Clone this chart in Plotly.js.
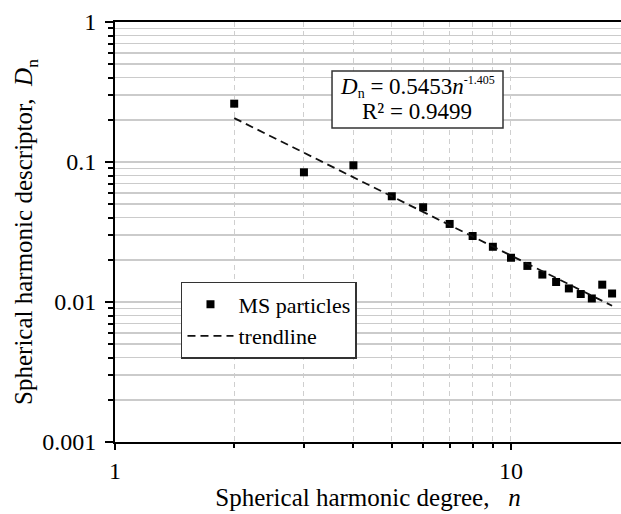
<!DOCTYPE html>
<html>
<head>
<meta charset="utf-8">
<script src="https://cdn.plot.ly/plotly-3.0.1.min.js"></script>
<style>html,body{margin:0;padding:0;background:#fff;}#chart{width:621px;height:514px;}</style>
</head>
<body>
<div id="chart"></div>
<script>
// Spherical harmonic degree n
const degreeN = [2, 3, 4, 5, 6, 7, 8, 9, 10, 11, 12, 13, 14, 15, 16, 17, 18];
// Spherical harmonic descriptor Dn (MS particles)
const descriptorDn = [0.261, 0.0844, 0.0947, 0.0569, 0.0475, 0.0361, 0.0296, 0.0248, 0.0207,
                      0.0181, 0.0157, 0.0139, 0.0125, 0.0114, 0.0106, 0.0133, 0.0115];
// Power-law trendline endpoints (Dn = 0.5453 n^-1.405)
const trendN = [2, 18];
const trendDn = [0.2059, 0.0094];
const xTickVals = [1, 10];
const xTickText = ['1', '10'];
const yTickVals = [0.001, 0.01, 0.1, 1];
const yTickText = ['0.001', '0.01', '0.1', '1'];
const seriesNames = ['MS particles', 'trendline'];
const equationLine1 = '<i>D</i><sub><span style="font-size:14px">n</span></sub> = 0.5453<i>n</i><sup><span style="font-size:12px">-1.405</span></sup>';
const equationLine2 = 'R² = 0.9499';

const FONT = '"Liberation Serif", "Times New Roman", Times, serif';

const traces = [
  {
    x: degreeN, y: descriptorDn, type: 'scatter', mode: 'markers', name: seriesNames[0],
    legendgroup: 'a',
    marker: {symbol: 'square', size: 8, color: '#000'}
  },
  {
    x: trendN, y: trendDn, type: 'scatter', mode: 'lines', name: seriesNames[1],
    legendgroup: 'b',
    line: {color: '#111', width: 1.8, dash: '8px,5px'}
  }
];

const layout = {
  width: 621, height: 514,
  margin: {l: 115, r: 0, t: 22, b: 72},
  paper_bgcolor: '#fff', plot_bgcolor: '#fff',
  font: {family: FONT, color: '#000', size: 24},
  showlegend: true,
  legend: {
    x: 0.1304, y: 0.381, xanchor: 'left', yanchor: 'top',
    bgcolor: '#fff', bordercolor: '#333', borderwidth: 1.5,
    font: {family: FONT, size: 22, color: '#000'},
    traceorder: 'grouped', tracegroupgap: 0, itemwidth: 46
  },
  xaxis: {
    type: 'log', range: [0, 1.2778], autorange: false,
    tickvals: xTickVals, ticktext: xTickText,
    ticks: 'outside', ticklen: 6, tickwidth: 2, tickcolor: '#000',
    showline: true, linecolor: '#000', linewidth: 2, mirror: true,
    showgrid: true, gridcolor: '#cfcfcf', gridwidth: 1, griddash: '5px,4px',
    zeroline: false,
    tickfont: {family: FONT, size: 24, color: '#000'},
    ticklabelstandoff: 0,
    minor: {dtick: 'D1', ticks: 'outside', ticklen: 4, tickwidth: 2, tickcolor: '#000',
            showgrid: true, gridcolor: '#cfcfcf', gridwidth: 1, griddash: '5px,4px'},
    title: {text: 'Spherical harmonic degree,   <i>n</i>', font: {family: FONT, size: 25, color: '#000'}, standoff: 6}
  },
  yaxis: {
    type: 'log', range: [-3, 0], autorange: false,
    tickvals: yTickVals, ticktext: yTickText,
    ticks: 'outside', ticklen: 8, tickwidth: 2, tickcolor: '#000',
    showline: true, linecolor: '#000', linewidth: 2,
    showgrid: true, gridcolor: '#cbcbcb', gridwidth: 1.5,
    zeroline: false,
    tickfont: {family: FONT, size: 24, color: '#000'},
    ticklabelstandoff: 4,
    minor: {dtick: 'D1', ticks: 'outside', ticklen: 5, tickwidth: 2, tickcolor: '#000',
            showgrid: true, gridcolor: '#cbcbcb', gridwidth: 1.5},
    title: {text: 'Spherical harmonic descriptor,  <i>D</i><sub>n</sub>', font: {family: FONT, size: 25, color: '#000'}, standoff: 2}
  },
  shapes: [{
    type: 'rect', xref: 'paper', yref: 'paper',
    x0: 0.4289, x1: 0.7668, y0: 0.7476, y1: 0.8833,
    fillcolor: '#fff', line: {color: '#333', width: 1.5}, layer: 'above'
  }],
  annotations: [
    {
      xref: 'paper', yref: 'paper', x: 0.5978, y: 0.846, xanchor: 'center', yanchor: 'middle',
      text: equationLine1, showarrow: false,
      font: {family: FONT, size: 23, color: '#000'}
    },
    {
      xref: 'paper', yref: 'paper', x: 0.5978, y: 0.7864, xanchor: 'center', yanchor: 'middle',
      text: equationLine2, showarrow: false,
      font: {family: FONT, size: 23, color: '#000'}
    }
  ]
};

Plotly.newPlot('chart', traces, layout, {displayModeBar: false, staticPlot: true});
</script>
</body>
</html>
